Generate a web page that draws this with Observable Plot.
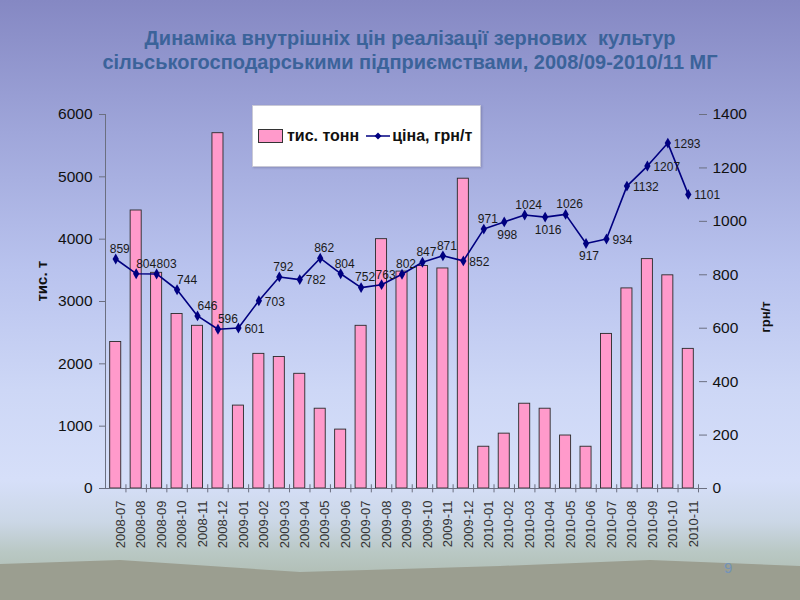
<!DOCTYPE html>
<html>
<head>
<meta charset="utf-8">
<script src="https://cdn.jsdelivr.net/npm/d3@7"></script>
<script src="https://cdn.jsdelivr.net/npm/@observablehq/plot@0.6"></script>
<style>
  html, body { margin: 0; padding: 0; }
  body {
    width: 800px; height: 600px; position: relative; overflow: hidden;
    font-family: "Liberation Sans", Arial, sans-serif;
    background: linear-gradient(to bottom, #8588c3 0%, #9fa6da 22%, #b9c3ee 45%, #cdd7f6 65%, #d6dff9 80%, #cbd7e6 87%, #b9c8c4 92%, #a9b4a6 100%);
  }
  #ground {
    position: absolute; left: 0; top: 0; width: 800px; height: 600px;
    background: #9b9e90;
    clip-path: polygon(0 564px, 120px 560px, 300px 572px, 500px 566px, 650px 560px, 800px 566px, 800px 600px, 0 600px);
  }
  #title {
    position: absolute; top: 26px; left: 20px; width: 780px; text-align: center;
    color: #3b639a; font-weight: bold; font-size: 20px; line-height: 24px;
  }
  #legend {
    position: absolute; left: 252px; top: 105px; width: 227px; height: 60px;
    background: #fff; border: 1px solid #c9c9d6; box-shadow: 1px 1px 2px rgba(80,80,120,0.35);
    display: flex; align-items: center; font-weight: bold; font-size: 16px; color: #111; white-space: nowrap;
  }
  #legend .sw { display: inline-block; width: 23px; height: 12px; background: #ff9acb; border: 1px solid #333; margin: 0 4px 0 5px; }
  #legend svg { margin: 0 2px 0 7px; }
  #page { position: absolute; left: 724px; top: 559px; color: #7393b8; font-size: 15px; }
  #chart { position: absolute; left: 0; top: 0; }
</style>
</head>
<body>
<div id="ground"></div>
<div id="title">Динаміка внутрішніх цін реалізації зернових&nbsp; культур<br>сільськогосподарськими підприємствами, 2008/09-2010/11 МГ</div>
<div id="chart"></div>
<div id="legend"><span class="sw"></span>тис. тонн<svg width="24" height="10"><line x1="0" y1="5" x2="24" y2="5" stroke="#000080" stroke-width="1.5"/><path d="M12,1.5L15.5,5L12,8.5L8.5,5Z" fill="#000080"/></svg>ціна, грн/т</div>
<div id="page">9</div>
<script>
const months = ["2008-07","2008-08","2008-09","2008-10","2008-11","2008-12",
  "2009-01","2009-02","2009-03","2009-04","2009-05","2009-06","2009-07","2009-08","2009-09","2009-10","2009-11","2009-12",
  "2010-01","2010-02","2010-03","2010-04","2010-05","2010-06","2010-07","2010-08","2010-09","2010-10","2010-11"];
const volume = [2350, 4460, 3460, 2800, 2610, 5700,
  1330, 2160, 2110, 1840, 1280, 945, 2610, 4000, 3480, 3570, 3530, 4970,
  670, 880, 1360, 1280, 850, 670, 2480, 3210, 3680, 3420, 2240];
const price = [859, 804, 803, 744, 646, 596,
  601, 703, 792, 782, 862, 804, 752, 763, 802, 847, 871, 852,
  971, 998, 1024, 1016, 1026, 917, 934, 1132, 1207, 1293, 1101];
const labelPlace = ["t","tr","tr","tr","tr","tr",
  "r","r","t","r","t","t","t","t","t","t","t","r",
  "t","b","t","b","t","b","r","r","r","r","r"];
const volumeTicks = [0, 1000, 2000, 3000, 4000, 5000, 6000];
const priceTicks = [0, 200, 400, 600, 800, 1000, 1200, 1400];

const k = 6000 / 1400;
const data = months.map((m, i) => ({i, m, v: volume[i], p: price[i], py: price[i] * k, pos: labelPlace[i]}));
const off = {
  t:  {dx: 4,  dy: -10, textAnchor: "middle"},
  tr: {dx: 10, dy: -10, textAnchor: "middle"},
  r:  {dx: 6,  dy: 1,   textAnchor: "start"},
  b:  {dx: 3,  dy: 13,  textAnchor: "middle"}
};
const font = "Liberation Sans, Arial, sans-serif";

const labelMarks = Object.entries(off).map(([key, o]) =>
  Plot.text(data.filter(d => d.pos === key), {
    x: "i", y: "py", text: d => String(d.p), dx: o.dx, dy: o.dy, textAnchor: o.textAnchor,
    fontSize: 12, fill: "#1a1a1a", fontFamily: font
  })
);

const chart = Plot.plot({
  width: 800, height: 600,
  marginTop: 114, marginBottom: 112, marginLeft: 105, marginRight: 102,
  style: {background: "transparent", fontFamily: font, overflow: "visible"},
  x: {type: "linear", domain: [-0.5, months.length - 0.5], axis: null},
  y: {domain: [0, 6000], axis: null},
  marks: [
    Plot.rectY(data, {x1: d => d.i - 0.27, x2: d => d.i + 0.27, y1: 0, y2: "v", fill: "#ff9acb", stroke: "#2a2a2a", strokeWidth: 0.9}),
    Plot.ruleX([-0.5], {stroke: "#6b6f80", strokeWidth: 1}),
    Plot.ruleY([0], {stroke: "#6b6f80", strokeWidth: 1}),
    Plot.ruleX(data, {x: d => d.i + 0.5, y1: -70, y2: 60, stroke: "#6b6f80", strokeWidth: 1}),
    Plot.axisY(volumeTicks, {anchor: "left", tickSize: 6, tickPadding: 7, fontSize: 15.5, fill: "#111", stroke: "#6b6f80", tickFormat: v => String(v), label: null}),
    Plot.axisY(priceTicks.map(p => p * k), {anchor: "right", tickSize: 8, tickPadding: 6, fontSize: 15.5, fill: "#111", stroke: "#6b6f80", tickFormat: v => String(Math.round(v / k)), label: null}),
    Plot.axisX(data.map(d => d.i), {anchor: "bottom", tickSize: 0, tickPadding: 12, rotate: -90, textAnchor: "end", fontSize: 13, fill: "#333", tickFormat: i => months[i], label: null}),
    Plot.text(["тис. т"], {frameAnchor: "left", dx: -63, rotate: -90, fontSize: 15, fontWeight: "bold", fill: "#111"}),
    Plot.text(["грн/т"], {frameAnchor: "right", dx: 67, rotate: -90, fontSize: 13, fontWeight: "bold", fill: "#111"}),
    Plot.line(data, {x: "i", y: "py", stroke: "#000080", strokeWidth: 1.6}),
    Plot.dot(data, {x: "i", y: "py", symbol: "diamond", r: 3.3, fill: "#000080", stroke: "none"}),
    ...labelMarks
  ]
});
document.getElementById("chart").appendChild(chart);
</script>
</body>
</html>
